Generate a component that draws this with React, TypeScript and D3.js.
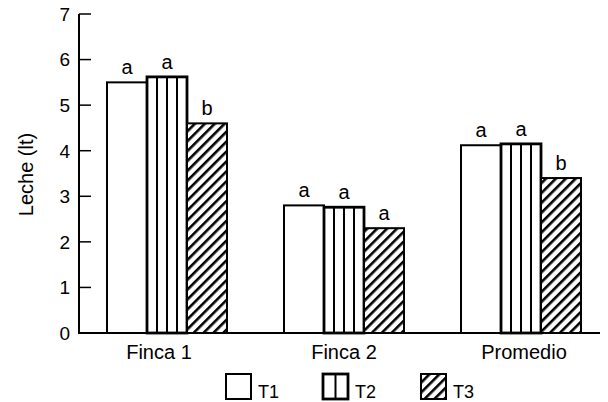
import React from "react";
import * as d3 from "d3";

const categories = ["Finca 1", "Finca 2", "Promedio"];
const series = ["T1", "T2", "T3"];
const valuesT1 = [5.5, 2.8, 4.12];
const valuesT2 = [5.62, 2.76, 4.15];
const valuesT3 = [4.6, 2.3, 3.4];
const lettersT1 = ["a", "a", "a"];
const lettersT2 = ["a", "a", "a"];
const lettersT3 = ["b", "a", "b"];
const yTicks = [0, 1, 2, 3, 4, 5, 6, 7];

const W = 608, H = 402;
const font = "'Liberation Sans', Arial, sans-serif";

export default function App() {
  const y = d3.scaleLinear().domain([0, 7]).range([333, 14]);
  const x0 = d3.scaleBand().domain(categories).range([78, 609]).padding(0);
  const x1 = d3.scaleBand().domain(series).range([29, 149]).padding(0);
  const vals = [valuesT1, valuesT2, valuesT3];
  const letters = [lettersT1, lettersT2, lettersT3];
  const fills = ["#fff", "#fff", "url(#hatch)"];
  const labelOffsets = [-8, 0, 3];

  const legendX = [226, 323, 421];

  return (
    <svg width={W} height={H} style={{ position: "absolute", left: 0, top: 0, background: "#fff" }}>
      <defs>
        <pattern id="hatch" patternUnits="userSpaceOnUse" width={7} height={7} patternTransform="rotate(45)">
          <rect width={7} height={7} fill="#fff" />
          <rect x={0} y={0} width={2.6} height={7} fill="#000" />
        </pattern>
      </defs>
      <rect width={W} height={H} fill="#fff" />
      {categories.map((c, ci) => (
        <g key={c}>
          {series.map((s, si) => {
            const bx = x0(c)! + x1(s)!;
            const bw = x1.bandwidth();
            const by = y(vals[si][ci]);
            const bh = y(0) - by;
            return (
              <g key={s}>
                <rect x={bx} y={by} width={bw} height={bh} fill={fills[si]} stroke="#000" strokeWidth={si === 1 ? 2.8 : 2} />
                {si === 1 &&
                  [1, 2, 3].map((k) => (
                    <line key={k} x1={bx + (bw * k) / 4} x2={bx + (bw * k) / 4} y1={by} y2={y(0)} stroke="#000" strokeWidth={2} />
                  ))}
                <text x={bx + bw / 2} y={by - 8} textAnchor="middle" fontFamily={font} fontSize={20} fill="#000">
                  {letters[si][ci]}
                </text>
              </g>
            );
          })}
        </g>
      ))}
      <line x1={79} x2={79} y1={y(7)} y2={y(0)} stroke="#000" strokeWidth={2} />
      <line x1={78} x2={600} y1={y(0)} y2={y(0)} stroke="#000" strokeWidth={2} />
      {yTicks.map((t) => (
        <g key={t}>
          <line x1={79} x2={91} y1={y(t)} y2={y(t)} stroke="#000" strokeWidth={1.5} />
          <text x={70} y={y(t)} dy="0.36em" textAnchor="end" fontFamily={font} fontSize={19} fill="#000">
            {t}
          </text>
        </g>
      ))}
      {categories.map((c, ci) => (
        <text key={c} x={x0(c)! + 89 + labelOffsets[ci]} y={359} textAnchor="middle" fontFamily={font} fontSize={20} fill="#000">
          {c}
        </text>
      ))}
      <text transform={`translate(33,${y(3.5) + 1}) rotate(-90)`} textAnchor="middle" fontFamily={font} fontSize={20} fill="#000">
        Leche (lt)
      </text>
      {series.map((s, si) => {
        const lx = legendX[si];
        const ly = 374;
        const sz = 25;
        return (
          <g key={s}>
            <rect x={lx} y={ly} width={sz} height={sz} fill={fills[si]} stroke="#000" strokeWidth={si === 1 ? 2.8 : 2} />
            {si === 1 && (
              <line x1={lx + sz / 2} x2={lx + sz / 2} y1={ly} y2={ly + sz} stroke="#000" strokeWidth={2} />
            )}
            <text x={lx + sz + 7} y={398} fontFamily={font} fontSize={18} fill="#000">
              {s}
            </text>
          </g>
        );
      })}
    </svg>
  );
}
